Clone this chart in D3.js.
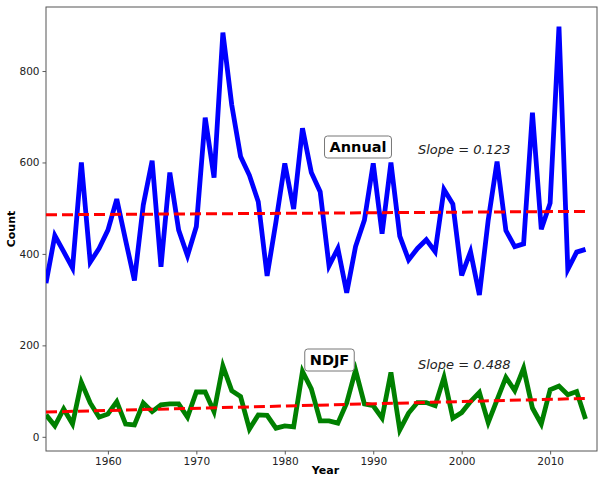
<!DOCTYPE html>
<html>
<head>
<meta charset="utf-8">
<script src="https://cdn.jsdelivr.net/npm/d3@7"></script>
<style>
  html, body { margin: 0; padding: 0; background: #fff; }
  svg { display: block; font-family: "DejaVu Sans", sans-serif; }
</style>
</head>
<body>
<svg id="chart" width="598" height="478"></svg>
<script>
// Storm counts per year, 1953-2014
const years = d3.range(1953, 2015);

const annualCounts = [
  336, 440, 405, 369, 600, 382, 412, 452, 520, 430,
  342, 507, 604, 372, 578, 452, 396, 460, 698, 567,
  884, 726, 613, 572, 514, 352, 470, 598, 498, 675,
  578, 536, 374, 412, 315, 416, 474, 598, 444, 600,
  439, 387, 412, 431, 405, 541, 509, 353, 405, 310,
  474, 602, 451, 416, 422, 709, 454, 511, 897, 366,
  404, 410
];

const ndjfCounts = [
  48, 24, 61, 28, 119, 74, 43, 50, 77, 28,
  26, 74, 55, 70, 72, 72, 43, 98, 98, 55,
  155, 101, 88, 17, 48, 47, 19, 24, 22, 143,
  105, 35, 35, 30, 74, 146, 72, 68, 41, 141,
  15, 52, 75, 75, 68, 130, 41, 53, 77, 97,
  31, 81, 130, 101, 150, 63, 28, 103, 111, 92,
  99, 39
];

// Linear trends (value at first year, slope per year)
const annualTrend = { start: 485.5, slope: 0.123 };
const ndjfTrend = { start: 54.2, slope: 0.488 };

const xTicks = [1960, 1970, 1980, 1990, 2000, 2010];
const yTicks = [0, 200, 400, 600, 800];

const svg = d3.select("#chart");
const plot = { left: 46, right: 597, top: 7, bottom: 451 };

const x = d3.scaleLinear().domain([1953, 2015.3]).range([plot.left, plot.right]);
const y = d3.scaleLinear().domain([-31, 940]).range([plot.bottom, plot.top]);

// Axes
const xAxis = d3.axisBottom(x).tickValues(xTicks).tickFormat(d3.format("d")).tickSize(3.5).tickPadding(3);
const yAxis = d3.axisLeft(y).tickValues(yTicks).tickFormat(d3.format("d")).tickSize(3.5).tickPadding(3);

const gx = svg.append("g").attr("transform", `translate(0,${plot.bottom})`).call(xAxis);
const gy = svg.append("g").attr("transform", `translate(${plot.left},0)`).call(yAxis);
[gx, gy].forEach(g => {
  g.select(".domain").remove();
  g.selectAll(".tick line").attr("stroke", "#333").attr("stroke-width", 0.8);
  g.selectAll(".tick text").attr("fill", "#222").style("font-size", "10.5px")
    .style("font-family", "'DejaVu Sans', sans-serif");
});

// Frame
svg.append("rect")
  .attr("x", plot.left).attr("y", plot.top)
  .attr("width", plot.right - plot.left).attr("height", plot.bottom - plot.top)
  .attr("fill", "none").attr("stroke", "#555").attr("stroke-width", 1);

svg.append("clipPath").attr("id", "plotclip").append("rect")
  .attr("x", plot.left).attr("y", plot.top)
  .attr("width", plot.right - plot.left).attr("height", plot.bottom - plot.top);

const g = svg.append("g").attr("clip-path", "url(#plotclip)");

const line = d3.line().x(d => x(d[0])).y(d => y(d[1]));

function drawSeries(values, color) {
  g.append("path")
    .datum(years.map((yr, i) => [yr, values[i]]))
    .attr("d", line)
    .attr("fill", "none")
    .attr("stroke", color)
    .attr("stroke-width", 4.8)
    .attr("stroke-linejoin", "miter")
    .attr("stroke-miterlimit", 4);
}

function drawTrend(trend) {
  const first = years[0], last = years[years.length - 1];
  g.append("path")
    .datum([[first, trend.start], [last, trend.start + trend.slope * (last - first)]])
    .attr("d", line)
    .attr("fill", "none")
    .attr("stroke", "#ff0000")
    .attr("stroke-width", 3)
    .attr("stroke-dasharray", "11,5");
}

drawSeries(annualCounts, "#0000ff");
drawSeries(ndjfCounts, "#008000");
drawTrend(annualTrend);
drawTrend(ndjfTrend);

// Boxed series labels
function boxedLabel(text, cx, cy, size) {
  const t = svg.append("text")
    .attr("x", cx).attr("y", cy)
    .attr("text-anchor", "middle").attr("dominant-baseline", "central")
    .style("font-size", size + "px").style("font-weight", "bold")
    .attr("fill", "#000").text(text);
  const b = t.node().getBBox();
  svg.insert("rect", () => t.node())
    .attr("x", b.x - 5).attr("y", cy - 11)
    .attr("width", b.width + 10).attr("height", 22)
    .attr("rx", 3).attr("ry", 3)
    .attr("fill", "#fff").attr("stroke", "#777").attr("stroke-width", 1);
}
boxedLabel("Annual", 358, 147, 14.5);
boxedLabel("NDJF", 329.5, 360, 14.5);

function slopeLabel(value, xStart, baseline) {
  svg.append("text")
    .attr("x", xStart).attr("y", baseline)
    .style("font-size", "13px").style("font-style", "italic")
    .attr("fill", "#222").text(`Slope = ${value}`);
}
slopeLabel(annualTrend.slope.toFixed(3), 418, 154);
slopeLabel(ndjfTrend.slope.toFixed(3), 418, 369);

// Axis titles
svg.append("text")
  .attr("x", (plot.left + plot.right) / 2 + 4).attr("y", 474)
  .attr("text-anchor", "middle")
  .style("font-size", "11px").style("font-weight", "bold")
  .text("Year");

svg.append("text")
  .attr("transform", "translate(15,229) rotate(-90)")
  .attr("text-anchor", "middle")
  .style("font-size", "11px").style("font-weight", "bold")
  .text("Count");
</script>
</body>
</html>
